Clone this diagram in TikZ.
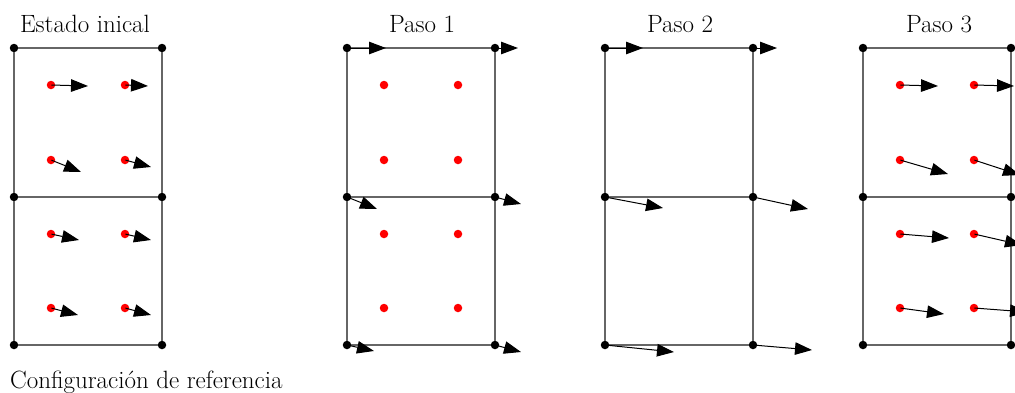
\documentclass[tikz,border=0pt]{standalone}
\usetikzlibrary{arrows.meta}
\begin{document}
\begin{tikzpicture}[x=1pt,y=-1pt,
  vert/.style={circle,fill=black,inner sep=0pt,minimum size=8.5pt},
  part/.style={circle,fill=red,inner sep=0pt,minimum size=8.5pt},
  cell/.style={draw=black!60,line width=1.2pt},
  vec/.style={draw=black,line width=1pt,shorten <=-4pt,-{Triangle[length=17pt,width=12.5pt]}},
  lbl/.style={font=\fontsize{25}{30}\selectfont,anchor=base,text=black}]
\useasboundingbox (0,0) rectangle (1015,392);
\clip (0,0) rectangle (1015,392);
% panels: vertices and cell edges
\foreach \p/\L in {a/14,b/347,c/605,d/863}{
  \foreach \j/\y in {0/48,1/197,2/345}{
    \node[vert] (\p-0-\j) at (\L,\y) {};
    \node[vert] (\p-1-\j) at (\L+148,\y) {};
  }
  \draw[cell] (\p-0-0) -- (\p-1-0) -- (\p-1-1) -- (\p-1-2) -- (\p-0-2) -- (\p-0-1) -- (\p-0-0);
  \draw[cell] (\p-0-1) -- (\p-1-1);
}
% particles
\foreach \p/\L in {a/14,b/347,d/863}{
  \foreach \j/\y in {0/85,1/160,2/234,3/308}{
    \node[part] (\p-q0-\j) at (\L+37,\y) {};
    \node[part] (\p-q1-\j) at (\L+111,\y) {};
  }
}
% titles
\node[lbl] (ta) at (85,32) {Estado inical};
\node[lbl] (tb) at (422,32) {Paso 1};
\node[lbl] (tc) at (680,32) {Paso 2};
\node[lbl] (td) at (939,32) {Paso 3};
\node[font=\fontsize{25}{30}\selectfont,anchor=base west,text=black,inner sep=0pt] (cap) at (10,388) {Configuración de referencia};
% arrow ends
\coordinate (ea1) at (88,86);  \coordinate (ea2) at (148,86);
\coordinate (ea3) at (81,172); \coordinate (ea4) at (151,167);
\coordinate (ea5) at (79,240); \coordinate (ea6) at (151,240);
\coordinate (ea7) at (78,315); \coordinate (ea8) at (151,315);
\draw[vec] (a-q0-0) -- (ea1);
\draw[vec] (a-q1-0) -- (ea2);
\draw[vec] (a-q0-1) -- (ea3);
\draw[vec] (a-q1-1) -- (ea4);
\draw[vec] (a-q0-2) -- (ea5);
\draw[vec] (a-q1-2) -- (ea6);
\draw[vec] (a-q0-3) -- (ea7);
\draw[vec] (a-q1-3) -- (ea8);
% paso 1
\coordinate (eb1) at (386,48);  \coordinate (eb2) at (518,48);
\coordinate (eb3) at (377,209); \coordinate (eb4) at (521,204);
\coordinate (eb5) at (374,351); \coordinate (eb6) at (521,352);
\draw[vec] (b-0-0) -- (eb1);
\draw[vec] (b-1-0) -- (eb2);
\draw[vec] (b-0-1) -- (eb3);
\draw[vec] (b-1-1) -- (eb4);
\draw[vec] (b-0-2) -- (eb5);
\draw[vec] (b-1-2) -- (eb6);
% paso 2
\coordinate (ec1) at (643,48);  \coordinate (ec2) at (777,48);
\coordinate (ec3) at (663,208); \coordinate (ec4) at (808,209);
\coordinate (ec5) at (674,352); \coordinate (ec6) at (812,350);
\draw[vec] (c-0-0) -- (ec1);
\draw[vec] (c-1-0) -- (ec2);
\draw[vec] (c-0-1) -- (ec3);
\draw[vec] (c-1-1) -- (ec4);
\draw[vec] (c-0-2) -- (ec5);
\draw[vec] (c-1-2) -- (ec6);
% paso 3
\coordinate (ed1) at (938,86);  \coordinate (ed2) at (1014,86);
\coordinate (ed3) at (948,174); \coordinate (ed4) at (1020,175);
\coordinate (ed5) at (949,238); \coordinate (ed6) at (1022,245);
\coordinate (ed7) at (944,314); \coordinate (ed8) at (1027,312);
\draw[vec] (d-q0-0) -- (ed1);
\draw[vec] (d-q1-0) -- (ed2);
\draw[vec] (d-q0-1) -- (ed3);
\draw[vec] (d-q1-1) -- (ed4);
\draw[vec] (d-q0-2) -- (ed5);
\draw[vec] (d-q1-2) -- (ed6);
\draw[vec] (d-q0-3) -- (ed7);
\draw[vec] (d-q1-3) -- (ed8);
\end{tikzpicture}
\end{document}
